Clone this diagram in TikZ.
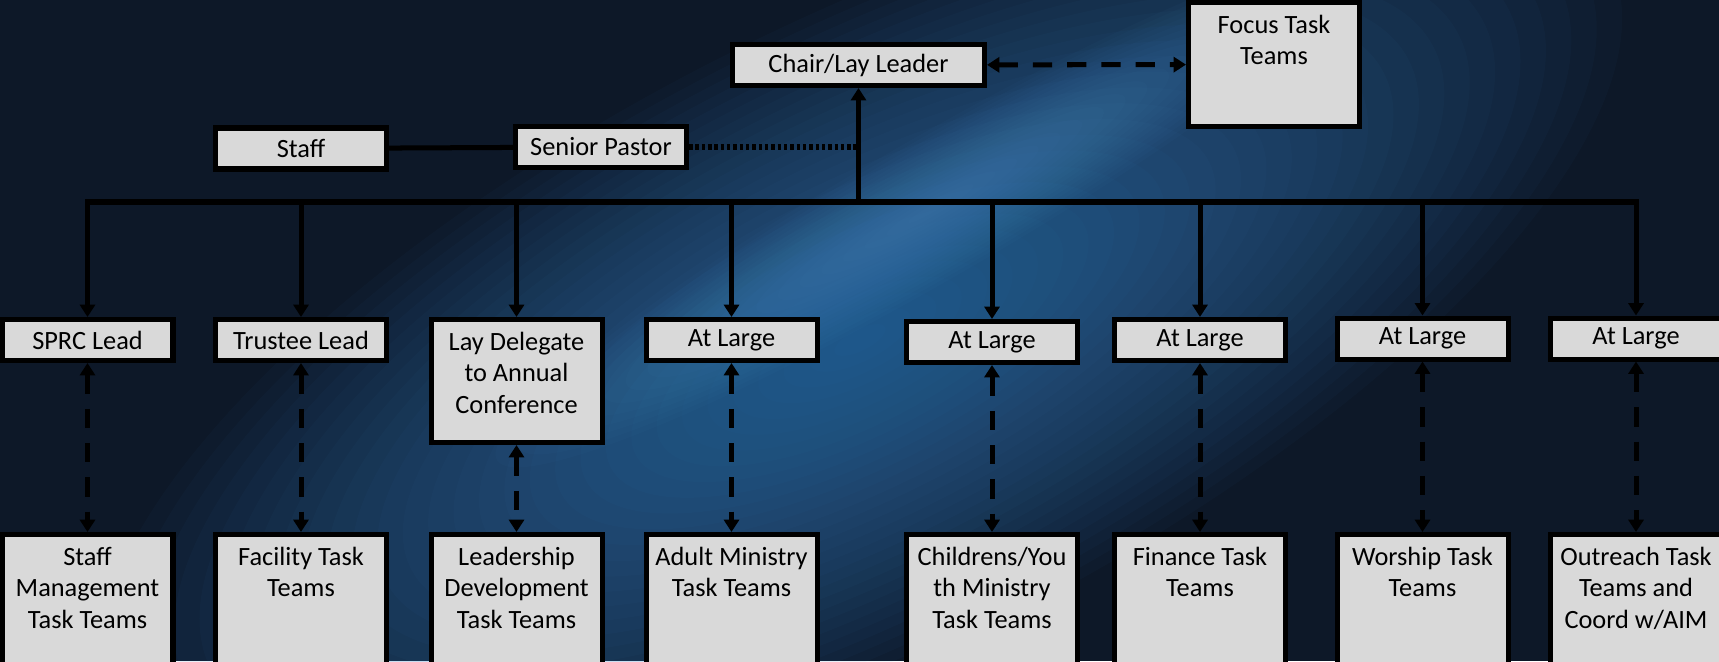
\documentclass[tikz,border=0pt]{standalone}
\usepackage{fontspec}
\setmainfont{Carlito}
\usetikzlibrary{arrows.meta}
\definecolor{bgnavy}{HTML}{0D1828}
\definecolor{glowblue}{HTML}{3A88CC}
\definecolor{boxgray}{HTML}{D9D9D9}
% top aligned text for the tall boxes
\newcommand{\boxtext}[2]{\parbox[c][#1][t]{3.3cm}{\centering\rule{0pt}{17.5pt}#2}}

\begin{document}
\begin{tikzpicture}[
    box/.style={draw=black, fill=boxgray, line width=2.85pt, inner sep=0pt,
      minimum width=3.42cm, minimum height=0.82cm, align=center,
      font=\fontsize{15}{18}\selectfont},
    link/.style={line width=2.85pt, -{Triangle[width=8.5pt,length=7pt]}},
    twoway/.style={line width=2.85pt, dash pattern=on 11pt off 8.5pt,
      {Triangle[width=8.5pt,length=7pt]}-{Triangle[width=8.5pt,length=7pt]}}
  ]
    \useasboundingbox (0,0) rectangle (34.38,-13.22);
    % background
    \fill[bgnavy] (0,0) rectangle (34.38,-13.22);
    \begin{scope}
      \clip (0,0) rectangle (34.38,-13.22);
      \foreach \k in {1,...,30}
        \fill[glowblue, opacity=0.037, rotate around={27:(17.2,-6.8)}]
          (17.2,-6.8) ellipse ({0.56*\k} and {0.21*\k});
      \foreach \k in {1,...,20}
        \fill[glowblue!85!white, opacity=0.03, rotate around={30:(18.6,-4.2)}]
          (18.6,-4.2) ellipse ({0.5*\k} and {0.07*\k});
    \end{scope}

    \node[box, minimum width=5.04cm] (chair) at (17.17,-1.30) {Chair/Lay Leader};
    \node[box, anchor=north] (focus) at (25.48,0) {\boxtext{2.48cm}{Focus Task\\Teams}};
    \node[box] (staff) at (6.02,-2.97) {Staff};
    \node[box] (pastor) at (12.02,-2.94) {Senior Pastor};

    \node[box] (sprc) at (1.75,-6.80) {SPRC Lead};
    \node[box] (trustee) at (6.02,-6.80) {Trustee Lead};
    \node[box, anchor=north] (laydel) at (10.33,-6.34)
      {\boxtext{2.46cm}{Lay Delegate\\to Annual\\Conference}};
    \node[box] (largeA) at (14.63,-6.80) {At Large};
    \node[box] (largeB) at (19.84,-6.84) {At Large};
    \node[box] (largeC) at (24.00,-6.80) {At Large};
    \node[box] (largeD) at (28.45,-6.77) {At Large};
    \node[box] (largeE) at (32.72,-6.77) {At Large};

    \node[box, anchor=north] (staffteams) at (1.75,-10.64)
      {\boxtext{3.3cm}{Staff\\Management\\Task Teams}};
    \node[box, anchor=north] (facility) at (6.02,-10.64)
      {\boxtext{3.3cm}{Facility Task\\Teams}};
    \node[box, anchor=north] (leadership) at (10.33,-10.64)
      {\boxtext{3.3cm}{Leadership\\Development\\Task Teams}};
    \node[box, anchor=north] (adult) at (14.63,-10.64)
      {\boxtext{3.3cm}{Adult Ministry\\Task Teams}};
    \node[box, anchor=north] (youth) at (19.84,-10.64)
      {\boxtext{3.3cm}{Childrens/You\\th Ministry\\Task Teams}};
    \node[box, anchor=north] (finance) at (24.00,-10.64)
      {\boxtext{3.3cm}{Finance Task\\Teams}};
    \node[box, anchor=north] (worship) at (28.45,-10.64)
      {\boxtext{3.3cm}{Worship Task\\Teams}};
    \node[box, anchor=north] (outreach) at (32.72,-10.64)
      {\boxtext{3.3cm}{Outreach Task\\Teams and\\Coord w/AIM}};

    \coordinate (hub) at (chair.south |- 0,-4.04);
    \draw[link] (hub) -- (chair);
    \draw[line width=2.85pt, line cap=rect] (sprc |- hub) -- (largeE |- hub);
    \foreach \n in {sprc,trustee,laydel,largeA,largeB,largeC,largeD,largeE}
      \draw[link] (\n |- hub) -- (\n);

    \draw[line width=2.85pt] (staff) -- (pastor);
    \draw[line width=2.85pt, dash pattern=on 2pt off 1.6pt] (pastor) -- (pastor -| chair.south);
    \draw[twoway] (chair) -- (focus);
    \foreach \a/\b in {sprc/staffteams,trustee/facility,laydel/leadership,largeA/adult,
      largeB/youth,largeC/finance,largeD/worship,largeE/outreach}
      \draw[twoway] (\a) -- (\b);
\end{tikzpicture}
\end{document}
